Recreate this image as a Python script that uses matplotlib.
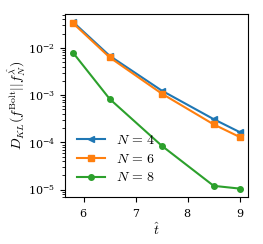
import numpy as np
import matplotlib.pyplot as plt

plt.rcParams['mathtext.fontset'] = 'cm'
plt.rcParams['font.family'] = 'serif'
plt.rcParams['font.serif'] = ['DejaVu Serif']
plt.rcParams['axes.formatter.use_mathtext'] = True
plt.rcParams['font.size'] = 10
plt.rcParams['xtick.labelsize'] = 8
plt.rcParams['ytick.labelsize'] = 8

t = [5.8, 6.5, 7.5, 8.5, 9.0]
d_n4 = [0.035, 0.0068, 1.25e-3, 3.1e-4, 1.65e-4]
d_n6 = [0.033, 0.0063, 1.08e-3, 2.4e-4, 1.3e-4]
d_n8 = [7.8e-3, 8.3e-4, 8.5e-5, 1.2e-5, 1.05e-5]

fig = plt.figure(figsize=(2.63, 2.44), dpi=100)
ax = fig.add_axes([0.247, 0.193, 0.696, 0.75])

ax.plot(t, d_n4, marker='<', ms=4, lw=1.5, label=r'$N\,=\,4$')
ax.plot(t, d_n6, marker='s', ms=4, lw=1.5, label=r'$N\,=\,6$')
ax.plot(t, d_n8, marker='o', ms=4, lw=1.5, label=r'$N\,=\,8$')
ax.set_yscale('log')
ax.set_xticks([6, 7, 8, 9])
ax.set_xlabel(r'$\hat{t}$', labelpad=2)
ax.set_ylabel(r'$D_{KL}(f^{\rm Bolt}||f_N^{\hat{\lambda}})$')
ax.yaxis.set_label_coords(-0.2, 0.5)
ax.legend(loc='lower left', frameon=False, labelspacing=0.35)

fig.savefig('out.png', dpi=100)
